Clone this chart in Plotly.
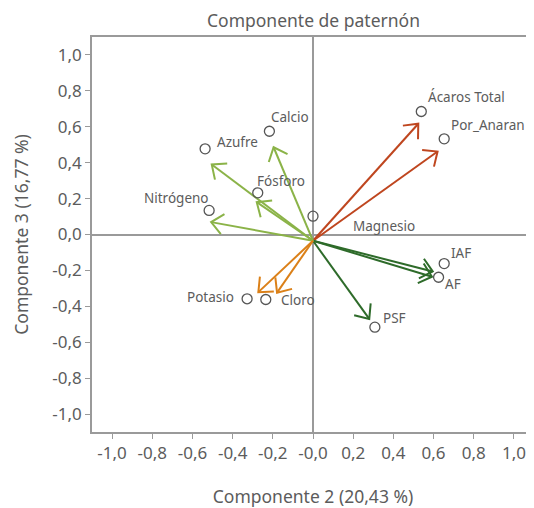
import math
import plotly.graph_objects as go

# ---------------- data ----------------
VARIABLES = ["Ácaros Total", "Por_Anaran", "Magnesio", "IAF", "AF", "PSF",
             "Calcio", "Azufre", "Fósforo", "Nitrógeno", "Potasio", "Cloro"]
POINT_X = [0.539, 0.653, 0.000, 0.653, 0.625, 0.308,
           -0.217, -0.537, -0.275, -0.517, -0.328, -0.235]
POINT_Y = [0.685, 0.533, 0.102, -0.162, -0.238, -0.516,
           0.575, 0.477, 0.232, 0.134, -0.358, -0.362]
ARROW_X = [0.524, 0.620, None, 0.596, 0.592, 0.280,
           -0.196, -0.504, -0.280, -0.507, -0.272, -0.179]
ARROW_Y = [0.617, 0.462, None, -0.206, -0.235, -0.470,
           0.486, 0.390, 0.180, 0.069, -0.321, -0.324]
GROUP = ["rojo", "rojo", "none", "verde_oscuro", "verde_oscuro", "verde_oscuro",
         "verde_claro", "verde_claro", "verde_claro", "verde_claro", "naranja", "naranja"]
ORIGIN_X = [0.0]
ORIGIN_Y = [-0.035]

TICK_VALUES = [-1.0, -0.8, -0.6, -0.4, -0.2, 0.0, 0.2, 0.4, 0.6, 0.8, 1.0]
X_TICK_TEXT = ["-1,0", "-0,8", "-0,6", "-0,4", "-0,2", "-0,0", "0,2", "0,4", "0,6", "0,8", "1,0"]
Y_TICK_TEXT = ["-1,0", "-0,8", "-0,6", "-0,4", "-0,2", "0,0", "0,2", "0,4", "0,6", "0,8", "1,0"]

TITLE = "Componente de paternón"
X_TITLE = "Componente 2 (20,43 %)"
Y_TITLE = "Componente 3 (16,77 %)"

# ---------------- style ----------------
# page body has an 8px margin, so the figure is sized to fit inside it
W, H = 526, 500
M_L, M_R, M_T, M_B = 84, 0, 29, 76
X_RANGE = [-1.1, 1.1]
Y_RANGE = [-1.1, 1.1]
SX = (W - M_L - M_R) / (X_RANGE[1] - X_RANGE[0])
SY = (H - M_T - M_B) / (Y_RANGE[1] - Y_RANGE[0])

COLORS = {"rojo": "#BF461F", "verde_oscuro": "#2E6B2A",
          "verde_claro": "#8BB348", "naranja": "#DB8018"}
TEXT_COLOR = "#5c5c5c"
AXIS_COLOR = "#9a9a9a"
FONT = "Noto Sans"
HEAD_LEN = 15.5
HEAD_ANG = math.radians(41)

# label placement (anchor, xshift px, yshift px)
LABEL_OFFSETS = {
    "Ácaros Total": ("left", 7, 15),
    "Por_Anaran": ("left", 7, 14),
    "Magnesio": ("left", 40, -10),
    "IAF": ("left", 7, 11),
    "AF": ("left", 6, -7),
    "PSF": ("left", 8, 9),
    "Calcio": ("left", 2, 14),
    "Azufre": ("left", 12, 7),
    "Fósforo": ("left", -1, 12),
    "Nitrógeno": ("right", 0, 12),
    "Potasio": ("right", -13, 2),
    "Cloro": ("left", 15, 0),
}

fig = go.Figure()

# arrows grouped by colour
for g, col in COLORS.items():
    xs, ys = [], []
    for i, name in enumerate(VARIABLES):
        if GROUP[i] != g or ARROW_X[i] is None:
            continue
        x0, y0 = ORIGIN_X[0], ORIGIN_Y[0]
        x1, y1 = ARROW_X[i], ARROW_Y[i]
        px = (x1 - x0) * SX
        py = -(y1 - y0) * SY
        L = math.hypot(px, py)
        bx, by = -px / L, -py / L
        arms = []
        for s in (1, -1):
            a = s * HEAD_ANG
            ax = bx * math.cos(a) - by * math.sin(a)
            ay = bx * math.sin(a) + by * math.cos(a)
            arms.append((x1 + ax * HEAD_LEN / SX, y1 - ay * HEAD_LEN / SY))
        xs += [x0, x1, None, arms[0][0], x1, arms[1][0], None]
        ys += [y0, y1, None, arms[0][1], y1, arms[1][1], None]
    fig.add_trace(go.Scatter(x=xs, y=ys, mode="lines",
                             line=dict(color=col, width=2),
                             hoverinfo="skip", showlegend=False))

# points
fig.add_trace(go.Scatter(x=POINT_X, y=POINT_Y, mode="markers",
                         marker=dict(symbol="circle-open", size=10,
                                     color="#555555", line=dict(width=1.3)),
                         text=VARIABLES, hoverinfo="text", showlegend=False))

# labels
for name, x, y in zip(VARIABLES, POINT_X, POINT_Y):
    anchor, dx, dy = LABEL_OFFSETS[name]
    fig.add_annotation(x=x, y=y, text=name, showarrow=False,
                       xanchor=anchor, yanchor="middle", xshift=dx, yshift=dy,
                       borderpad=0, borderwidth=0,
                       font=dict(family=FONT, size=13.5, color=TEXT_COLOR))

# chart title (as an annotation above the plot area)
fig.add_annotation(x=0.5, y=1.0, xref="paper", yref="paper", text=TITLE,
                   showarrow=False, xanchor="center", yanchor="middle",
                   yshift=M_T - 12, borderpad=0,
                   font=dict(family=FONT, size=17.5, color=TEXT_COLOR))

axis_common = dict(showgrid=False, showline=True, linecolor=AXIS_COLOR, linewidth=1.5,
                   mirror=True, ticks="outside", ticklen=5, tickwidth=1.3,
                   tickcolor=AXIS_COLOR, zeroline=True, zerolinecolor=AXIS_COLOR,
                   zerolinewidth=1.5, tickvals=TICK_VALUES, automargin=False,
                   tickfont=dict(family=FONT, size=17, color=TEXT_COLOR))

fig.update_layout(
    width=W, height=H,
    margin=dict(l=M_L, r=M_R, t=M_T, b=M_B),
    paper_bgcolor="white", plot_bgcolor="white",
    xaxis=dict(range=X_RANGE, ticktext=X_TICK_TEXT,
               title=dict(text=X_TITLE, standoff=28,
                          font=dict(family=FONT, size=17.5, color=TEXT_COLOR)),
               **axis_common),
    yaxis=dict(range=Y_RANGE, ticktext=Y_TICK_TEXT,
               title=dict(text=Y_TITLE, standoff=19,
                          font=dict(family=FONT, size=17.5, color=TEXT_COLOR)),
               **axis_common),
)

fig.write_html("out.html")
